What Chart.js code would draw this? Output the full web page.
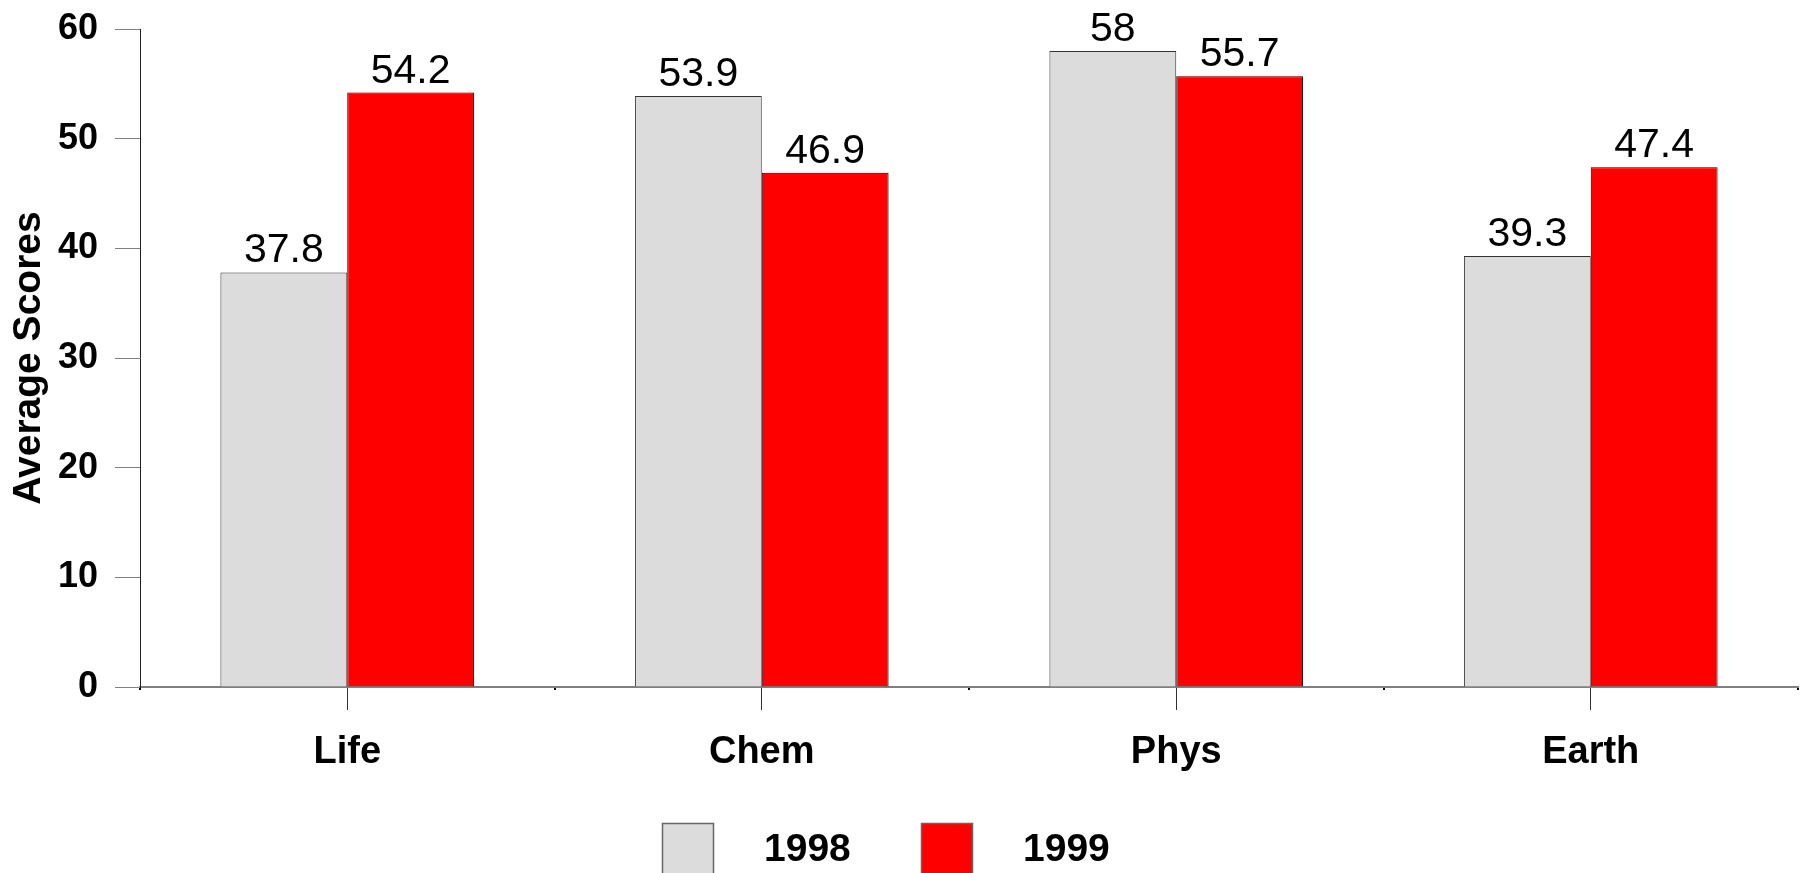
<!DOCTYPE html>
<html>
<head>
<meta charset="utf-8">
<script src="https://cdn.jsdelivr.net/npm/chart.js@4/dist/chart.umd.min.js"></script>
<style>
  html, body { margin: 0; padding: 0; background: #ffffff; }
  canvas { display: block; }
</style>
</head>
<body>
<canvas id="c" width="1806" height="873"></canvas>
<script>
const categories = ["Life", "Chem", "Phys", "Earth"];
const seriesLabels = ["1998", "1999"];
const values1998 = [37.8, 53.9, 58, 39.3];
const values1999 = [54.2, 46.9, 55.7, 47.4];
const yTicks = [0, 10, 20, 30, 40, 50, 60];
const yTitle = "Average Scores";

const FONT = "'Liberation Sans', Arial, Helvetica, sans-serif";

const valueLabels = {
  id: 'valueLabels',
  afterDatasetsDraw(chart) {
    const ctx = chart.ctx;
    ctx.save();
    ctx.font = "41px " + FONT;
    ctx.fillStyle = "#000";
    ctx.textAlign = "center";
    ctx.textBaseline = "alphabetic";
    chart.data.datasets.forEach((ds, i) => {
      const meta = chart.getDatasetMeta(i);
      meta.data.forEach((bar, j) => {
        ctx.fillText(String(ds.data[j]), bar.x, bar.y - 10);
      });
    });
    ctx.restore();
  }
};

const customLegend = {
  id: 'customLegend',
  afterDraw(chart) {
    const ctx = chart.ctx;
    ctx.save();
    const startX = 662, boxTop = 823, box = 52, step = 259, textGap = 102;
    ctx.font = "bold 39px " + FONT;
    ctx.textAlign = "left";
    ctx.textBaseline = "middle";
    chart.data.datasets.forEach((ds, i) => {
      const x = startX + i * step;
      ctx.fillStyle = ds.backgroundColor;
      ctx.fillRect(x, boxTop, box, box);
      ctx.strokeStyle = "#666";
      ctx.lineWidth = 1.5;
      ctx.strokeRect(x + 0.5, boxTop + 0.5, box - 1, box - 1);
      ctx.fillStyle = "#000";
      ctx.fillText(ds.label, x + textGap, 850);
    });
    ctx.restore();
  }
};

new Chart(document.getElementById('c'), {
  type: 'bar',
  data: {
    labels: categories,
    datasets: [
      { label: seriesLabels[0], data: values1998, backgroundColor: '#dcdcdc', borderColor: '#333', borderWidth: 1,
        categoryPercentage: 0.612, barPercentage: 1.0 },
      { label: seriesLabels[1], data: values1999, backgroundColor: '#ff0000', borderColor: '#000', borderWidth: 1,
        categoryPercentage: 0.612, barPercentage: 1.0 }
    ]
  },
  options: {
    responsive: false,
    animation: false,
    devicePixelRatio: 1,
    layout: { padding: { top: 29, right: 8, bottom: 0, left: 0 } },
    plugins: {
      legend: { display: false },
      tooltip: { enabled: false }
    },
    scales: {
      x2: {
        type: 'category',
        position: 'bottom',
        weight: -1,
        afterFit(scale) { scale.height = 0; },
        grid: { offset: true, drawOnChartArea: false, drawTicks: true, tickLength: 3, color: '#000', lineWidth: 2 },
        border: { display: false },
        ticks: { display: false }
      },
      x: {
        afterFit(scale) { scale.height = 186; },
        grid: { offset: false, drawOnChartArea: false, drawTicks: true, tickLength: 23, color: '#333', lineWidth: 1 },
        border: { display: true, color: '#808080', width: 2 },
        ticks: { color: '#000', font: { family: FONT, size: 38, weight: 'bold' }, padding: 20, maxRotation: 0 }
      },
      y: {
        min: 0, max: 60,
        afterFit(scale) { scale.width = 140; scale.paddingTop = 0; scale.paddingBottom = 0; },
        afterBuildTicks(scale) { scale.ticks = yTicks.map(v => ({ value: v })); },
        grid: { drawOnChartArea: false, drawTicks: true, tickLength: 25, color: '#808080', lineWidth: 1 },
        border: { display: true, color: '#222', width: 1 },
        ticks: { color: '#000', font: { family: FONT, size: 36, weight: 'bold' }, padding: 17 },
        title: { display: true, text: yTitle, color: '#000', font: { family: FONT, size: 39, weight: 'bold' }, padding: { top: 6, bottom: 0 } }
      }
    }
  },
  plugins: [valueLabels, customLegend]
});
</script>
</body>
</html>
